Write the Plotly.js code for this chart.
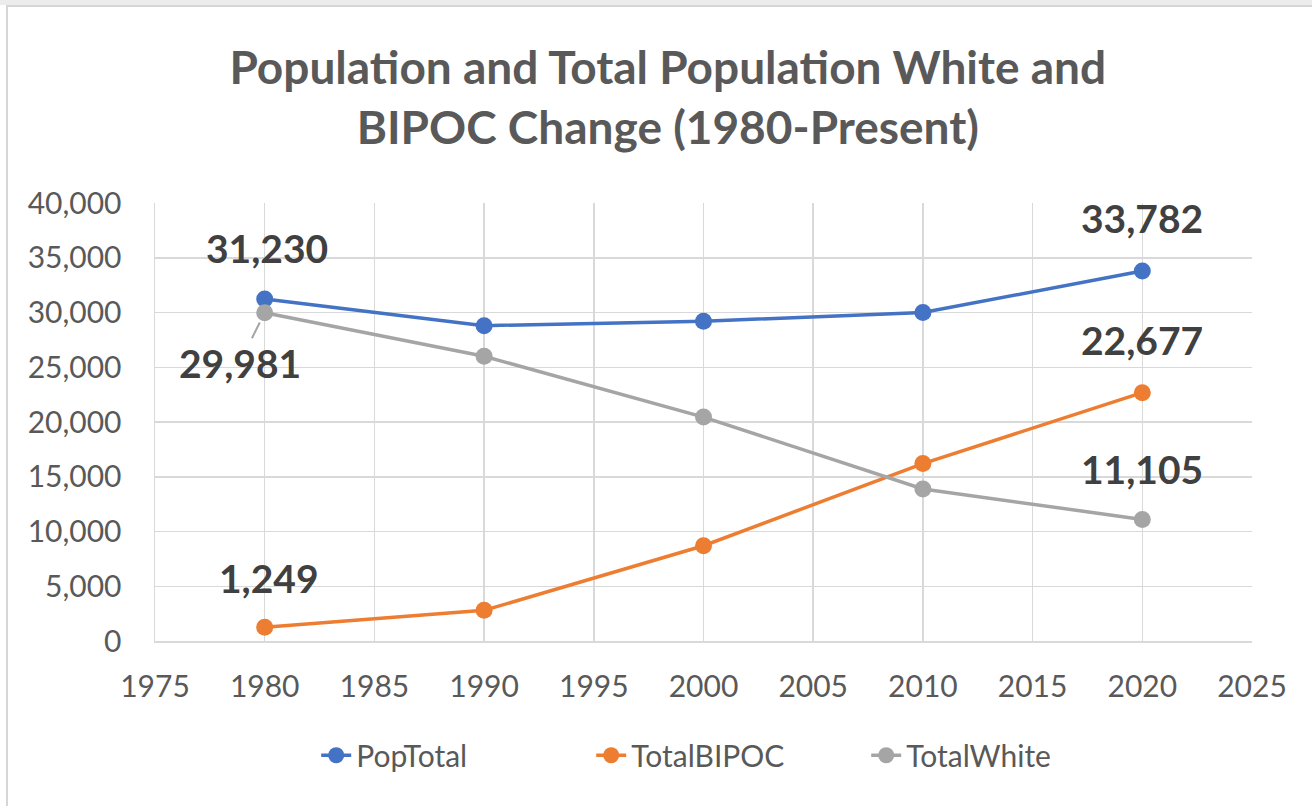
<!DOCTYPE html>
<html>
<head>
<meta charset="utf-8">
<script src="https://cdn.plot.ly/plotly-3.0.1.min.js"></script>
<style>
  html, body { margin: 0; padding: 0; background: #ffffff; }
  #chart { width: 1312px; height: 806px; }
  #frame { position: absolute; left: 6px; top: 5px; width: 1400px; height: 900px;
           border-top: 2px solid #d6d6d6; border-left: 2px solid #d6d6d6; pointer-events: none; }
  #band { position: absolute; left: 0; top: 0; width: 1312px; height: 5px; background: #ececec; pointer-events: none; }
</style>
</head>
<body>
<div id="chart"></div>
<div id="band"></div>
<div id="frame"></div>
<script>
const years = [1980, 1990, 2000, 2010, 2020];
const popTotal = [31230, 28800, 29200, 30000, 33782];
const totalBIPOC = [1249, 2800, 8700, 16200, 22677];
const totalWhite = [29981, 26000, 20450, 13880, 11105];
const seriesNames = ['PopTotal', 'TotalBIPOC', 'TotalWhite'];
const xTicks = [1975, 1980, 1985, 1990, 1995, 2000, 2005, 2010, 2015, 2020, 2025];
const yTicks = [0, 5000, 10000, 15000, 20000, 25000, 30000, 35000, 40000];

const colors = ['#4472C4', '#ED7D31', '#A5A5A5'];
const allSeries = [popTotal, totalBIPOC, totalWhite];

const traces = allSeries.map((vals, i) => ({
  type: 'scatter',
  mode: 'lines+markers',
  name: seriesNames[i],
  x: years,
  y: vals,
  line: { color: colors[i], width: 3.5 },
  marker: { color: colors[i], size: 17 },
  hoverinfo: 'x+y'
}));

const fmt = v => v.toLocaleString('en-US');
const labelFont = { family: 'Lato, "Open Sans", sans-serif', size: 39, color: '#404040', weight: 700 };
const annotations = [];
const firstStyle = [
  { xshift: 2, yshift: 51 },
  { xshift: 4, yshift: 49 },
  { arrow: true, ax: -25, ay: 50 }
];
const lastStyle = [
  { xshift: 0, yshift: 53 },
  { xshift: 0, yshift: 53 },
  { xshift: 0, yshift: 50 }
];
allSeries.forEach((vals, i) => {
  const f = firstStyle[i];
  const a1 = {
    x: years[0], y: vals[0], xref: 'x', yref: 'y',
    text: '<b>' + fmt(vals[0]) + '</b>',
    font: labelFont
  };
  if (f.arrow) {
    Object.assign(a1, { showarrow: true, ax: f.ax, ay: f.ay, arrowhead: 0, arrowwidth: 2,
      arrowcolor: '#A5A5A5', standoff: 11 });
  } else {
    Object.assign(a1, { showarrow: false, xanchor: 'center', yanchor: 'middle', xshift: f.xshift, yshift: f.yshift });
  }
  annotations.push(a1);
  const l = lastStyle[i];
  const n = vals.length - 1;
  annotations.push({
    x: years[n], y: vals[n], xref: 'x', yref: 'y',
    text: '<b>' + fmt(vals[n]) + '</b>',
    font: labelFont, showarrow: false, xanchor: 'center', yanchor: 'middle',
    xshift: l.xshift, yshift: l.yshift
  });
});

const tickFont = { family: 'Lato, "Open Sans", sans-serif', size: 30, color: '#595959' };

const layout = {
  width: 1312, height: 806,
  paper_bgcolor: '#ffffff', plot_bgcolor: '#ffffff',
  margin: { l: 155, r: 60, t: 203, b: 165 },
  title: {
    text: '<b>Population and Total Population White and<br>BIPOC Change (1980-Present)</b>',
    font: { family: 'Lato, "Open Sans", sans-serif', size: 46, color: '#595959' },
    x: 0.509, xref: 'container', xanchor: 'center',
    y: 0.896, yref: 'container', yanchor: 'middle'
  },
  showlegend: true,
  legend: {
    orientation: 'h', x: 0.241, xref: 'container', xanchor: 'left', y: 0.063, yref: 'container', yanchor: 'middle',
    font: { family: 'Lato, "Open Sans", sans-serif', size: 30, color: '#595959' },
    entrywidth: 230, entrywidthmode: 'pixels', tracegroupgap: 0
  },
  xaxis: {
    range: [1975, 2025], tickvals: xTicks, ticktext: xTicks.map(String),
    showgrid: true, gridcolor: '#d9d9d9', gridwidth: 1.5,
    showline: true, linecolor: '#d9d9d9', linewidth: 1.5,
    ticks: '', tickfont: tickFont, ticklabelstandoff: 18, zeroline: false, fixedrange: true
  },
  yaxis: {
    range: [0, 40000], tickvals: yTicks, ticktext: yTicks.map(fmt),
    showgrid: true, gridcolor: '#d9d9d9', gridwidth: 1.5,
    showline: true, linecolor: '#d9d9d9', linewidth: 1.5, mirror: false,
    ticks: '', tickfont: tickFont, ticklabelstandoff: 26, zeroline: false, fixedrange: true
  },
  annotations: annotations
};

Plotly.newPlot('chart', traces, layout, { displayModeBar: false, staticPlot: true });
</script>
</body>
</html>
